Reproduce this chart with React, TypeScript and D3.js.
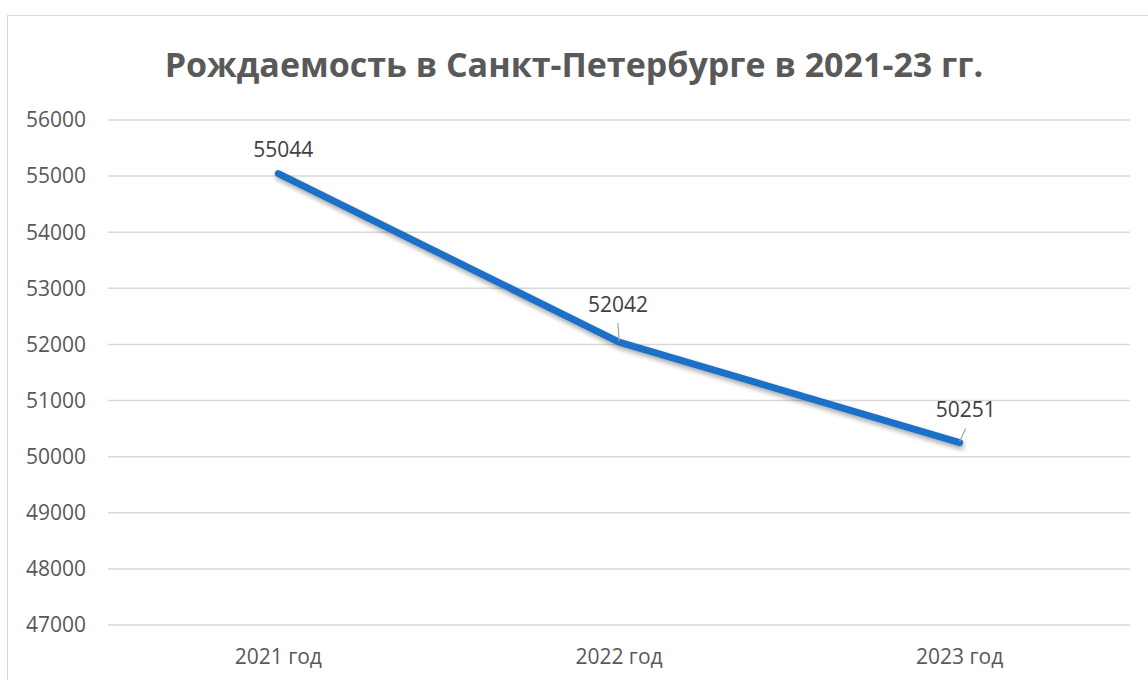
import React from "react";
import * as d3 from "d3";

const categories = ["2021 год", "2022 год", "2023 год"];
const values = [55044, 52042, 50251];
const yTicks = [47000, 48000, 49000, 50000, 51000, 52000, 53000, 54000, 55000, 56000];
const title = "Рождаемость в Санкт-Петербурге в 2021-23 гг.";

export default function App() {
  const W = 1148, H = 680;
  const left = 108, right = 1130, top = 120, bottom = 625;
  const x = d3.scaleBand<string>().domain(categories).range([left, right]);
  const y = d3.scaleLinear().domain([47000, 56000]).range([bottom, top]);
  const cx = (c: string) => (x(c) as number) + x.bandwidth() / 2;
  const line = d3.line<number>().x((_, i) => cx(categories[i])).y((d) => y(d));
  const font = "'Open Sans', 'Noto Sans', sans-serif";
  const labelOffsets = [
    { dx: 5, dy: -17, leader: false, lx: 0, ly: 0 },
    { dx: -1, dy: -30, leader: true, lx: -1, ly: -19 },
    { dx: 6, dy: -26, leader: true, lx: 6, ly: -14 },
  ];
  return (
    <svg width={W} height={H} style={{ position: "absolute", left: 0, top: 0, display: "block" }}>
      <defs>
        <filter id="sh" x="-10%" y="-10%" width="120%" height="130%">
          <feGaussianBlur in="SourceAlpha" stdDeviation="2.5" />
          <feOffset dx="1" dy="3" result="b" />
          <feComponentTransfer><feFuncA type="linear" slope="0.35" /></feComponentTransfer>
          <feMerge><feMergeNode /><feMergeNode in="SourceGraphic" /></feMerge>
        </filter>
      </defs>
      <rect x={0} y={0} width={W} height={H} fill="#fff" />
      <rect x={7.5} y={15.5} width={W} height={H} fill="#fff" stroke="#d9d9d9" strokeWidth={1} />
      <text x={574} y={77} textAnchor="middle" fontFamily={font} fontWeight="bold" fontSize={34} fill="#595959">{title}</text>
      {yTicks.map((t) => (
        <g key={t}>
          <line x1={left} x2={right} y1={y(t)} y2={y(t)} stroke="#d9d9d9" strokeWidth={1.5} />
          <text x={86} y={y(t)} dy="0.35em" textAnchor="end" fontFamily={font} fontSize={21} fill="#595959">{t}</text>
        </g>
      ))}
      {categories.map((c) => (
        <text key={c} x={cx(c)} y={664} textAnchor="middle" fontFamily={font} fontSize={21} fill="#595959">{c}</text>
      ))}
      <path d={line(values) || ""} fill="none" stroke="#1f6fc6" strokeWidth={7} strokeLinecap="round" strokeLinejoin="round" filter="url(#sh)" />
      {values.map((v, i) => {
        const px = cx(categories[i]);
        const py = y(v);
        const o = labelOffsets[i];
        return (
          <g key={i}>
            {o.leader && (
              <line x1={px + o.lx} y1={py + o.ly} x2={px} y2={py - 1} stroke="#a6a6a6" strokeWidth={1.2} />
            )}
            <text x={px + o.dx} y={py + o.dy} textAnchor="middle" fontFamily={font} fontSize={21} fill="#404040">{v}</text>
          </g>
        );
      })}
    </svg>
  );
}
